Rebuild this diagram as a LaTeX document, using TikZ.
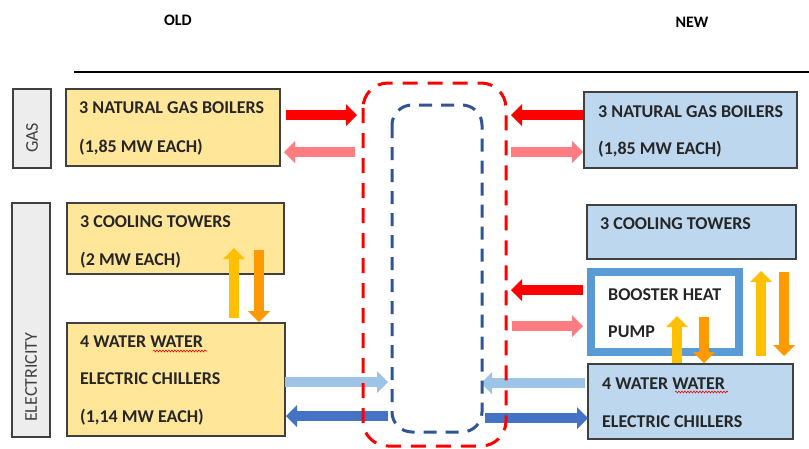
\documentclass[tikz,border=0pt]{standalone}
\usepackage{fontspec}
\setmainfont{Carlito}
\usetikzlibrary{arrows.meta,calc,decorations.pathmorphing}
\definecolor{oldfill}{HTML}{FFE699}
\definecolor{newfill}{HTML}{BDD7EE}
\definecolor{catfill}{HTML}{EDEDED}
\definecolor{boxline}{HTML}{404040}
\definecolor{hpblue}{HTML}{5B9BD5}
\definecolor{redA}{HTML}{FF0000}
\definecolor{pinkA}{HTML}{FF7C80}
\definecolor{lblue}{HTML}{9DC3E6}
\definecolor{dblue}{HTML}{4472C4}
\definecolor{yel}{HTML}{FFC000}
\definecolor{ora}{HTML}{FF9900}
\definecolor{loopblue}{HTML}{2F5597}
\definecolor{txt}{HTML}{262626}
\begin{document}
\begin{tikzpicture}[x=1pt,y=-1pt,
  box/.style={draw=boxline, line width=1.3pt, anchor=north west, inner sep=0pt, outer sep=0pt},
  oldbox/.style={box, fill=oldfill},
  newbox/.style={box, fill=newfill},
  catbox/.style={box, fill=catfill},
  lbl/.style={anchor=base west, inner sep=0pt, font=\bfseries\fontsize{18}{21}\selectfont, text=txt},
  cat/.style={anchor=west, inner sep=0pt, rotate=90, font=\fontsize{18}{21}\selectfont, text=boxline},
  head/.style={anchor=base, inner sep=0pt, font=\bfseries\fontsize{16}{19}\selectfont},
  fat/.style={line width=10.5pt, -{Triangle[width=22pt,length=11pt,line width=0pt]}},
  loopshape/.style={anchor=north west, inner sep=0pt, outer sep=0pt},
  squig/.style={red, line width=0.6pt, decorate, decoration={snake, amplitude=0.9pt, segment length=3pt}}
]
\fill[white] (0,0) rectangle (809,448);
\useasboundingbox (0,0) rectangle (809,448);

% headings
\node[head] (old) at (178,25) {OLD};
\node[head] (new) at (692,27) {NEW};
\coordinate (hl1) at (74,72);
\coordinate (hl2) at (809,72);
\draw[line width=1.5pt] (hl1) -- (hl2);

% category boxes
\node[catbox, minimum width=38pt, minimum height=79pt] (gas) at (13,89) {};
\node[catbox, minimum width=38pt, minimum height=234pt] (elec) at (12,203) {};
\node[cat] (gastxt) at ($(gas.south)+(0,-15)$) {GAS};
\node[cat] (electxt) at ($(elec.south)+(0,-15)$) {ELECTRICITY};

% old boxes
\node[oldbox, minimum width=214pt, minimum height=77pt] (ob) at (66,89) {};
\node[oldbox, minimum width=217pt, minimum height=71pt] (oc) at (67,203) {};
\node[oldbox, minimum width=218pt, minimum height=113pt] (och) at (67,323) {};
\node[lbl] (t1) at ($(ob.north west)+(13,24)$) {3 NATURAL GAS BOILERS};
\node[lbl] (t2) at ($(ob.north west)+(13,63)$) {(1,85 MW EACH)};
\node[lbl] (t3) at ($(oc.north west)+(13,24)$) {3 COOLING TOWERS};
\node[lbl] (t4) at ($(oc.north west)+(13,62)$) {(2 MW EACH)};
\node[lbl] (t5) at ($(och.north west)+(13,24)$) {4 WATER WATER};
\node[lbl] (t6) at ($(och.north west)+(13,61)$) {ELECTRIC CHILLERS};
\node[lbl] (t7) at ($(och.north west)+(13,99)$) {(1,14 MW EACH)};

% new boxes
\node[newbox, minimum width=213pt, minimum height=76pt] (nb) at (584,92) {};
\node[newbox, minimum width=209pt, minimum height=54pt] (nc) at (587,205) {};
\node[draw=hpblue, line width=7.5pt, fill=white, anchor=north west, minimum width=148pt, minimum height=80pt, inner sep=0pt, outer sep=0pt] (hp) at (591,272) {};
\node[newbox, minimum width=205pt, minimum height=75pt] (nch) at (588,364) {};
\node[lbl] (n1) at ($(nb.north west)+(14,25)$) {3 NATURAL GAS BOILERS};
\node[lbl] (n2) at ($(nb.north west)+(14,62)$) {(1,85 MW EACH)};
\node[lbl] (n3) at ($(nc.north west)+(13,24)$) {3 COOLING TOWERS};
\node[lbl] (n4) at ($(hp.north west)+(17,28)$) {BOOSTER HEAT};
\node[lbl] (n5) at ($(hp.north west)+(17,65)$) {PUMP};
\node[lbl] (n6) at ($(nch.north west)+(14,25)$) {4 WATER WATER};
\node[lbl] (n7) at ($(nch.north west)+(14,63)$) {ELECTRIC CHILLERS};

% spell-check squiggles
\draw[squig] (153,351) -- (207,351);
\draw[squig] (675,392) -- (728,392);

% loop shapes (drawn later)
\node[loopshape, minimum width=143pt, minimum height=363pt] (loopR) at (363,83) {};
\node[loopshape, minimum width=90pt, minimum height=327pt] (loopB) at (392,105) {};

% old arrows
\draw[fat, redA] ($(ob.north east)+(6,26)$) -- ($(loopR.north west)+(-6,32)$);
\draw[fat, pinkA] ($(loopR.north west)+(-8,69)$) -- ($(ob.north east)+(4,63)$);
\draw[fat, lblue] ($(och.north east)+(0,59)$) -- ($(loopB.north west)+(-4,277)$);
\draw[fat, dblue] ($(loopB.north west)+(-4,311)$) -- ($(och.north east)+(1,93)$);
\draw[fat, yel] ($(och.north west)+(167,-5)$) -- ($(oc.south west)+(167,-26)$);
\draw[fat, ora] ($(oc.south west)+(192,-24)$) -- ($(och.north west)+(192,-1)$);

% new arrows
\draw[fat, redA] ($(nb.north west)+(-1,23)$) -- ($(loopR.north east)+(5,32)$);
\draw[fat, pinkA] ($(loopR.north east)+(5,69)$) -- ($(nb.north west)+(-1,60)$);
\draw[fat, redA] ($(hp.north west)+(-8,18)$) -- ($(loopR.north east)+(5,207)$);
\draw[fat, pinkA] ($(loopR.north east)+(6,243)$) -- ($(hp.north west)+(-8,54)$);
\draw[fat, lblue] ($(nch.north west)+(-3,19)$) -- ($(loopB.north east)+(-1,278)$);
\draw[fat, dblue] ($(loopB.north east)+(3,313)$) -- ($(nch.north west)+(0,54)$);
\draw[fat, yel] ($(nch.north west)+(89,-1)$) -- ($(hp.north west)+(86,44)$);
\draw[fat, ora] ($(hp.north west)+(113,45)$) -- ($(nch.north west)+(116,-1)$);
\draw[fat, yel] ($(hp.south east)+(22,4)$) -- ($(hp.north east)+(22,-1)$);
\draw[fat, ora] ($(hp.north east)+(45,0)$) -- ($(hp.south east)+(45,4)$);

% dashed loops
\draw[redA, line width=3pt, dash pattern=on 15pt off 10pt, rounded corners=25pt] (loopR.north west) rectangle (loopR.south east);
\draw[loopblue, line width=3pt, dash pattern=on 13pt off 9pt, rounded corners=20pt] (loopB.north west) rectangle (loopB.south east);
\end{tikzpicture}
\end{document}
